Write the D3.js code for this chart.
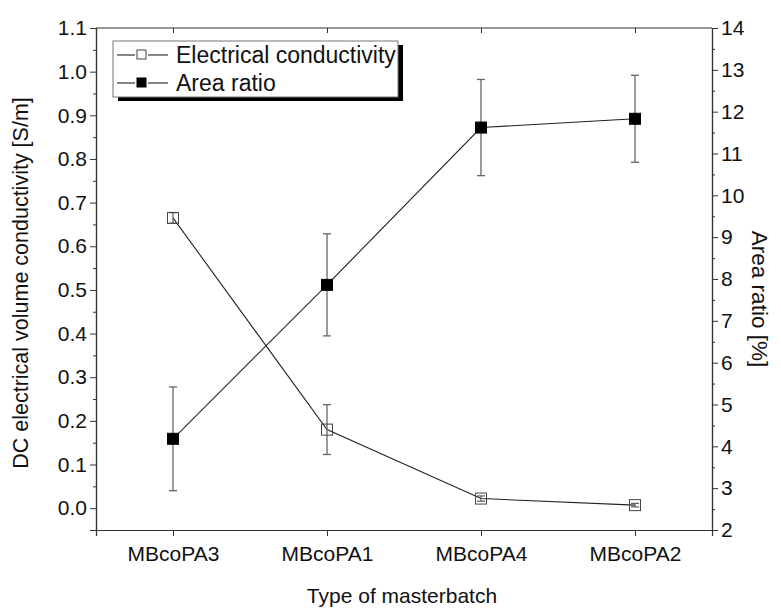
<!DOCTYPE html>
<html>
<head>
<meta charset="utf-8">
<script src="https://cdn.jsdelivr.net/npm/d3@7"></script>
<style>
  body { margin: 0; background: #fff; }
  text { font-family: "Liberation Sans", Arial, sans-serif; fill: #111; }
</style>
</head>
<body>
<svg id="chart" width="781" height="608"></svg>
<script>
const categories = ["MBcoPA3", "MBcoPA1", "MBcoPA4", "MBcoPA2"];
const conductivity = [0.665, 0.180, 0.022, 0.007];
const conductivityErr = [0.012, 0.057, 0.006, 0.004];
const areaRatio = [4.18, 7.86, 11.62, 11.83];
const areaRatioErr = [1.24, 1.22, 1.15, 1.04];
const leftTicks = d3.range(0, 1.1001, 0.1);
const rightTicks = d3.range(2, 14.001, 1);
const seriesNames = ["Electrical conductivity", "Area ratio"];

const svg = d3.select("#chart");
const L = 96, R = 712, T = 28, B = 530;

const x = d3.scaleLinear().domain([0.5, 4.5]).range([L, R]);
const yL = d3.scaleLinear().domain([-0.05, 1.1]).range([B, T]);
const yR = d3.scaleLinear().domain([2, 14]).range([B, T]);

const axisColor = "#333";
const tickFont = 21;

// top frame line
svg.append("line").attr("x1", L).attr("x2", R).attr("y1", T).attr("y2", T)
  .attr("stroke", axisColor).attr("stroke-width", 1.2);

// left axis
const gL = svg.append("g").attr("transform", `translate(${L},0)`);
gL.call(d3.axisLeft(yL).tickValues(leftTicks).tickFormat(d3.format(".1f")).tickSize(6).tickPadding(3));
gL.append("g").call(d3.axisLeft(yL).tickValues(d3.range(0.05, 1.1, 0.1)).tickFormat("").tickSize(3));
// right axis
const gR = svg.append("g").attr("transform", `translate(${R},0)`);
gR.call(d3.axisRight(yR).tickValues(rightTicks).tickFormat(d3.format("d")).tickSize(6).tickPadding(3));
gR.append("g").call(d3.axisRight(yR).tickValues(d3.range(2.5, 14, 1)).tickFormat("").tickSize(3));
// bottom axis
const gB = svg.append("g").attr("transform", `translate(0,${B})`);
gB.call(d3.axisBottom(x).tickValues([1, 2, 3, 4]).tickFormat(d => categories[d - 1]).tickSize(6).tickPadding(10));
// top ticks inward
const gT = svg.append("g").attr("transform", `translate(0,${T})`);
gT.call(d3.axisBottom(x).tickValues([1, 2, 3, 4]).tickFormat("").tickSize(5));
gT.select(".domain").remove();

svg.selectAll(".domain").attr("stroke", axisColor).attr("stroke-width", 1.2);
svg.selectAll(".tick line").attr("stroke", axisColor).attr("stroke-width", 1);
svg.selectAll(".tick text").attr("font-size", tickFont).attr("fill", "#111")
  .attr("font-family", "'Liberation Sans', Arial, sans-serif");

// axis titles
svg.append("text").attr("x", 402).attr("y", 603).attr("text-anchor", "middle")
  .attr("font-size", 21).text("Type of masterbatch");
svg.append("text").attr("transform", `translate(28,283) rotate(-90)`)
  .attr("text-anchor", "middle").attr("font-size", 21.5).text("DC electrical volume conductivity [S/m]");
svg.append("text").attr("transform", `translate(752,299) rotate(90)`)
  .attr("text-anchor", "middle").attr("font-size", 22.5).text("Area ratio [%]");

const idx = d3.range(categories.length);
const errColor = "#666";
const cap = 4;

function drawSeries(vals, errs, yS, filled) {
  const line = d3.line().x(i => x(i + 1)).y(i => yS(vals[i]));
  svg.append("path").datum(idx).attr("d", line).attr("fill", "none")
    .attr("stroke", "#222").attr("stroke-width", 1.1);
  const eg = svg.append("g");
  idx.forEach(i => {
    const cx = x(i + 1), y1 = yS(vals[i] + errs[i]), y2 = yS(vals[i] - errs[i]);
    eg.append("line").attr("x1", cx).attr("x2", cx).attr("y1", y1).attr("y2", y2)
      .attr("stroke", errColor).attr("stroke-width", 1.3);
    [y1, y2].forEach(yy => eg.append("line").attr("x1", cx - cap).attr("x2", cx + cap)
      .attr("y1", yy).attr("y2", yy).attr("stroke", errColor).attr("stroke-width", 1.3));
  });
  const s = 11;
  svg.append("g").selectAll("rect").data(idx).join("rect")
    .attr("x", i => x(i + 1) - s / 2).attr("y", i => yS(vals[i]) - s / 2)
    .attr("width", s).attr("height", s)
    .attr("fill", filled ? "#000" : "none").attr("stroke", filled ? "#000" : "#444")
    .attr("stroke-width", 1);
}
drawSeries(conductivity, conductivityErr, yL, false);
drawSeries(areaRatio, areaRatioErr, yR, true);

// legend
const lg = svg.append("g");
const lx = 113, ly = 41, lw = 285, lh = 56;
lg.append("rect").attr("x", lx + 5).attr("y", ly + 4).attr("width", lw).attr("height", lh).attr("fill", "#000");
lg.append("rect").attr("x", lx).attr("y", ly).attr("width", lw).attr("height", lh)
  .attr("fill", "#fff").attr("stroke", "#777").attr("stroke-width", 1);
seriesNames.forEach((name, k) => {
  const yy = ly + 14 + k * 28;
  lg.append("line").attr("x1", lx + 4).attr("x2", lx + 22).attr("y1", yy).attr("y2", yy)
    .attr("stroke", "#222").attr("stroke-width", 1.1);
  lg.append("line").attr("x1", lx + 35).attr("x2", lx + 55).attr("y1", yy).attr("y2", yy)
    .attr("stroke", "#222").attr("stroke-width", 1.1);
  lg.append("rect").attr("x", lx + 24).attr("y", yy - 5).attr("width", 9).attr("height", 9)
    .attr("fill", k === 1 ? "#000" : "#fff").attr("stroke", k === 1 ? "#000" : "#444");
  lg.append("text").attr("x", lx + 63).attr("y", yy + 8).attr("font-size", 23).text(name);
});
</script>
</body>
</html>
